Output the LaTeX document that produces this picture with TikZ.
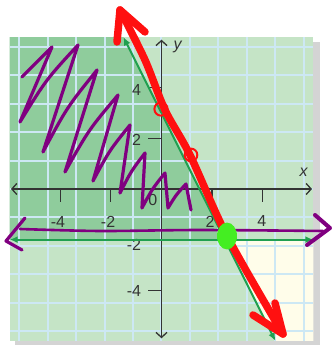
\documentclass[tikz,border=0pt]{standalone}
\usepackage{fontspec}
\setmainfont{Liberation Sans}
\usepackage{xcolor}
\usetikzlibrary{arrows.meta}
\definecolor{zonaoscura}{RGB}{143,204,156}
\definecolor{zonaclara}{RGB}{197,228,198}
\definecolor{zonacrema}{RGB}{255,253,234}
\definecolor{rejilla}{RGB}{205,232,244}
\definecolor{ejes}{RGB}{51,51,51}
\definecolor{rectaverde}{RGB}{32,160,80}
\definecolor{lapizrojo}{RGB}{255,16,16}
\definecolor{lapizmorado}{RGB}{128,0,128}
\definecolor{marcaverde}{RGB}{68,238,34}
\definecolor{sombra}{RGB}{212,212,212}

\begin{document}
\begin{tikzpicture}[>={Straight Barb[length=5pt,width=11pt]}, x=25.3pt, y=25.3pt,
    font=\fontsize{16}{16}\selectfont,
    etiqueta/.style={text=ejes, inner sep=0pt},
    morado/.style={lapizmorado, line width=3.2pt, line cap=round, line join=round},
    rojo/.style={lapizrojo, line width=7.5pt, line cap=round, line join=round}]
    \useasboundingbox (-6.383,-6.166) rectangle (6.700,7.470);

    % Sombra y regiones sombreadas
    \fill[sombra] (-5.8,-6.2) rectangle (6.25,5.8);
    \fill[zonaclara] (-6,-6) rectangle (6,6);
    \fill[zonaoscura] (-6,-2) -- (2.5,-2) -- (-1.5,6) -- (-6,6) -- cycle;
    \fill[zonacrema] (2.5,-2) -- (6,-2) -- (6,-6) -- (4.5,-6) -- cycle;
    \draw[rejilla, line width=2pt] (-6,-6) grid (6,6);

    % Ejes
    \draw[ejes, line width=1.3pt, <->] (-5.95,0) -- (5.95,0);
    \draw[ejes, line width=1.3pt, <->] (0,-5.9) -- (0,5.9);
    \node[etiqueta] (ejex) at (5.63,0.67) {\textit{x}};
    \node[etiqueta] (ejey) at (0.65,5.61) {\textit{y}};

    % Marcas y etiquetas
    \foreach \t in {-4,-2,2,4} {
        \draw[ejes, line width=1.2pt] (\t,0) -- (\t,-0.5);
        \draw[ejes, line width=1.2pt] (0,\t) -- (-0.55,\t);
    }
    \node[etiqueta] (xm4) at (-4.09,-1.3) {-4};
    \node[etiqueta] (xm2) at (-2.11,-1.3) {-2};
    \node[etiqueta] (xp2) at (1.92,-1.3) {2};
    \node[etiqueta] (xp4) at (3.97,-1.25) {4};
    \node[etiqueta, anchor=east] (yp4) at (-0.8,3.91) {4};
    \node[etiqueta, anchor=east] (yp2) at (-0.8,1.94) {2};
    \node[etiqueta, anchor=east] (ym2) at (-0.8,-2.2) {-2};
    \node[etiqueta, anchor=east] (ym4) at (-0.8,-4.03) {-4};
    \node[etiqueta] (origen) at (-0.34,-0.43) {0};

    % Rectas impresas: y=-2 y y=-2x+3
    \draw[rectaverde, line width=2pt, {Latex[length=8pt,width=7pt]}-{Latex[length=8pt,width=7pt]}] (-6,-2) -- (6,-2);
    \draw[rectaverde, line width=2pt, {Latex[length=8pt,width=7pt]}-{Latex[length=8pt,width=7pt]}] (-1.5,6) -- (4.5,-6);

    % Trazos a mano: garabato morado
    \draw[morado] (-5.514,4.427) -- (-4.328,5.613) -- (-5.593,2.648)
        .. controls (-4.561,4.322) .. (-3.300,5.692) -- (-4.684,1.462)
        .. controls (-3.723,3.245) .. (-2.549,4.704) -- (-3.814,0.672)
        .. controls (-2.871,2.346) .. (-1.719,3.715) -- (-2.708,0.316)
        .. controls (-2.050,1.534) .. (-1.245,2.530) -- (-1.640,-0.158)
        .. controls (-1.195,0.712) .. (-0.652,1.423) -- (-0.771,-0.751)
        .. controls (-0.362,0.010) .. (0.138,0.632) -- (0.257,-0.751)
        .. controls (0.577,-0.229) .. (0.968,0.198) -- (1.166,-0.830);

    % Flecha horizontal morada
    \draw[morado, line width=2.6pt] plot[smooth] coordinates {
        (-5.593,-1.581) (-2.431,-1.660) (1.522,-1.621) (6.383,-1.660)};
    \draw[morado] (-5.395,-1.146) -- (-6.146,-2.055) -- (-5.514,-2.411);
    \draw[morado, line width=4pt] (6.067,-1.028) -- (6.660,-1.542) -- (5.751,-2.213);

    % Recta roja con flechas
    \draw[rojo] plot[smooth] coordinates {
        (-1.640,7.075) (-0.652,5.099) (0.14,3.12) (1.126,1.344)
        (2.589,-1.858) (4.802,-5.731)};
    \draw[rojo] (-1.759,5.810) -- (-1.640,7.075) -- (-0.652,6.206);
    \draw[rojo] (3.617,-4.980) -- (4.802,-5.731) -- (4.486,-4.506);
    \draw[lapizrojo, line width=2pt] (-0.02,3.16) circle (0.26);
    \draw[lapizrojo, line width=2pt] (1.166,1.344) circle (0.25);

    % Punto de corte marcado
    \fill[marcaverde] (2.589,-1.858) ellipse (0.395 and 0.53);
\end{tikzpicture}
\end{document}
